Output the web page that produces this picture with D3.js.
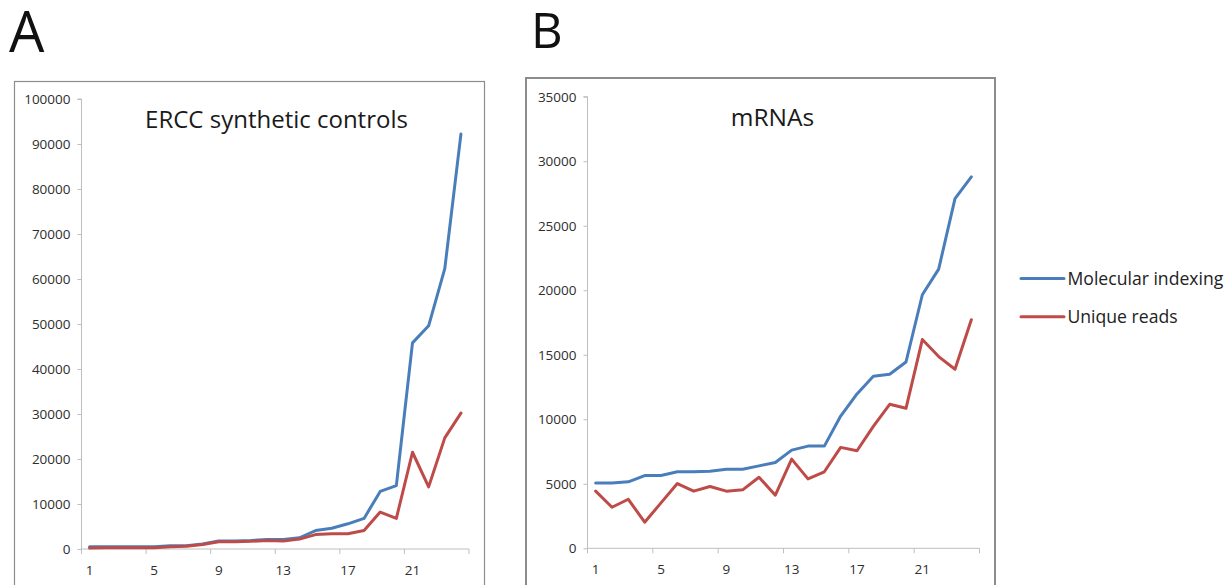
<!DOCTYPE html>
<html>
<head>
<meta charset="utf-8">
<script src="https://cdn.jsdelivr.net/npm/d3@7"></script>
<style>
  html, body { margin: 0; padding: 0; background: #fff; }
  svg { display: block; font-family: "Open Sans", "Noto Sans", sans-serif; }
</style>
</head>
<body>
<svg id="chart" width="1230" height="585"></svg>
<script>
// ---- data ----
const categories = d3.range(1, 25);               // 1..24
const xTickLabels = [1, 5, 9, 13, 17, 21];
const seriesNames = ["Molecular indexing", "Unique reads"];
const seriesColors = ["#4a7ebb", "#be4b48"];

const erccMolecular = [500, 500, 500, 500, 500, 700, 750, 1100, 1800, 1800, 1900, 2100,
                       2100, 2500, 4100, 4600, 5600, 6800, 12800, 14100, 45800, 49600, 62300, 92200];
const erccUnique    = [200, 300, 300, 300, 300, 500, 600, 1000, 1600, 1600, 1700, 1900,
                       1800, 2200, 3200, 3400, 3400, 4100, 8200, 6800, 21500, 13800, 24700, 30200];
const erccYTicks = d3.range(0, 100001, 10000);

const mrnaMolecular = [5070, 5070, 5150, 5640, 5640, 5930, 5930, 5980, 6130, 6130, 6390, 6650,
                       7610, 7920, 7920, 10250, 11960, 13330, 13490, 14440, 19650, 21640, 27100, 28790];
const mrnaUnique    = [4430, 3180, 3800, 2020, 3520, 5020, 4430, 4790, 4430, 4530, 5510, 4120,
                       6910, 5380, 5930, 7820, 7560, 9450, 11160, 10850, 16180, 14860, 13880, 17710];
const mrnaYTicks = d3.range(0, 35001, 5000);

// ---- drawing ----
const svg = d3.select("#chart");

function panel(cfg) {
  const g = svg.append("g");
  // outer frame
  g.append("rect")
    .attr("x", cfg.frame[0]).attr("y", cfg.frame[1])
    .attr("width", cfg.frame[2]).attr("height", cfg.frame[3])
    .attr("fill", "#fff").attr("stroke", "#8c8c8c").attr("stroke-width", cfg.frameW);

  const x = d3.scaleBand().domain(categories).range([cfg.left, cfg.right]).padding(0);
  const y = d3.scaleLinear().domain([0, cfg.yMax]).range([cfg.bottom, cfg.top]);

  // y axis
  const ya = g.append("g").attr("transform", `translate(${cfg.left},0)`)
    .call(d3.axisLeft(y).tickValues(cfg.yTicks).tickSize(4).tickPadding(7).tickFormat(d3.format("d")));
  ya.select(".domain").attr("stroke", "#bfbfbf").attr("d", `M-4,${cfg.top}H0V${cfg.bottom}`);
  ya.selectAll(".tick line").attr("stroke", "#bfbfbf");
  ya.selectAll("text").attr("font-size", 13.5).attr("fill", "#2e2e2e").attr("font-family", "Open Sans");

  // x axis (labels at category centres)
  const xa = g.append("g").attr("transform", `translate(0,${cfg.bottom})`)
    .call(d3.axisBottom(x).tickValues(xTickLabels).tickSize(0).tickPadding(16));
  xa.select(".domain").attr("stroke", "#bfbfbf").attr("d", `M${cfg.left},0H${cfg.right}`);
  xa.selectAll("text").attr("font-size", 13.5).attr("fill", "#2e2e2e").attr("font-family", "Open Sans");
  // boundary tick marks every 4 categories
  const boundaries = xTickLabels.map(c => x(c)).concat([x.range()[1]]);
  xa.selectAll(".btick").data(boundaries).enter().append("line")
    .attr("class", "btick")
    .attr("x1", d => d).attr("x2", d => d).attr("y1", 0).attr("y2", 5)
    .attr("stroke", "#bfbfbf");

  // series
  const line = d3.line().x((d, i) => x(categories[i]) + x.bandwidth() / 2).y(d => y(d));
  cfg.series.forEach((s, k) => {
    g.append("path").datum(s)
      .attr("d", line)
      .attr("fill", "none")
      .attr("stroke", seriesColors[k])
      .attr("stroke-width", 3)
      .attr("stroke-linejoin", "round")
      .attr("stroke-linecap", "round");
  });

  // chart title
  g.append("text")
    .attr("x", cfg.titleX).attr("y", cfg.titleY)
    .attr("text-anchor", "middle")
    .attr("font-size", cfg.titleSize).attr("fill", "#1a1a1a")
    .text(cfg.title);

  // panel letter
  g.append("text")
    .attr("x", cfg.letterX).attr("y", cfg.letterY)
    .attr("font-size", cfg.letterSize).attr("fill", "#111")
    .text(cfg.letter);
}

panel({
  frame: [14.5, 81.5, 470, 520], frameW: 1.2,
  left: 81.5, right: 469, top: 99, bottom: 549,
  yMax: 100000, yTicks: erccYTicks,
  series: [erccMolecular, erccUnique],
  title: "ERCC synthetic controls", titleX: 276.5, titleY: 128, titleSize: 24,
  letter: "A", letterX: 9, letterY: 52, letterSize: 56
});

panel({
  frame: [526, 78, 469, 520], frameW: 2,
  left: 587.5, right: 979.5, top: 96.7, bottom: 548.3,
  yMax: 35000, yTicks: mrnaYTicks,
  series: [mrnaMolecular, mrnaUnique],
  title: "mRNAs", titleX: 772.5, titleY: 125.7, titleSize: 24.5,
  letter: "B", letterX: 531, letterY: 48, letterSize: 49
});

// legend
const lg = svg.append("g");
seriesNames.forEach((name, k) => {
  const yy = 278.5 + k * 38.3;
  lg.append("line")
    .attr("x1", 1021).attr("x2", 1064).attr("y1", yy).attr("y2", yy)
    .attr("stroke", seriesColors[k]).attr("stroke-width", 3).attr("stroke-linecap", "round");
  lg.append("text")
    .attr("x", 1067.5).attr("y", yy).attr("dy", "0.38em")
    .attr("font-size", 17.6).attr("fill", "#222")
    .text(name);
});
</script>
</body>
</html>
